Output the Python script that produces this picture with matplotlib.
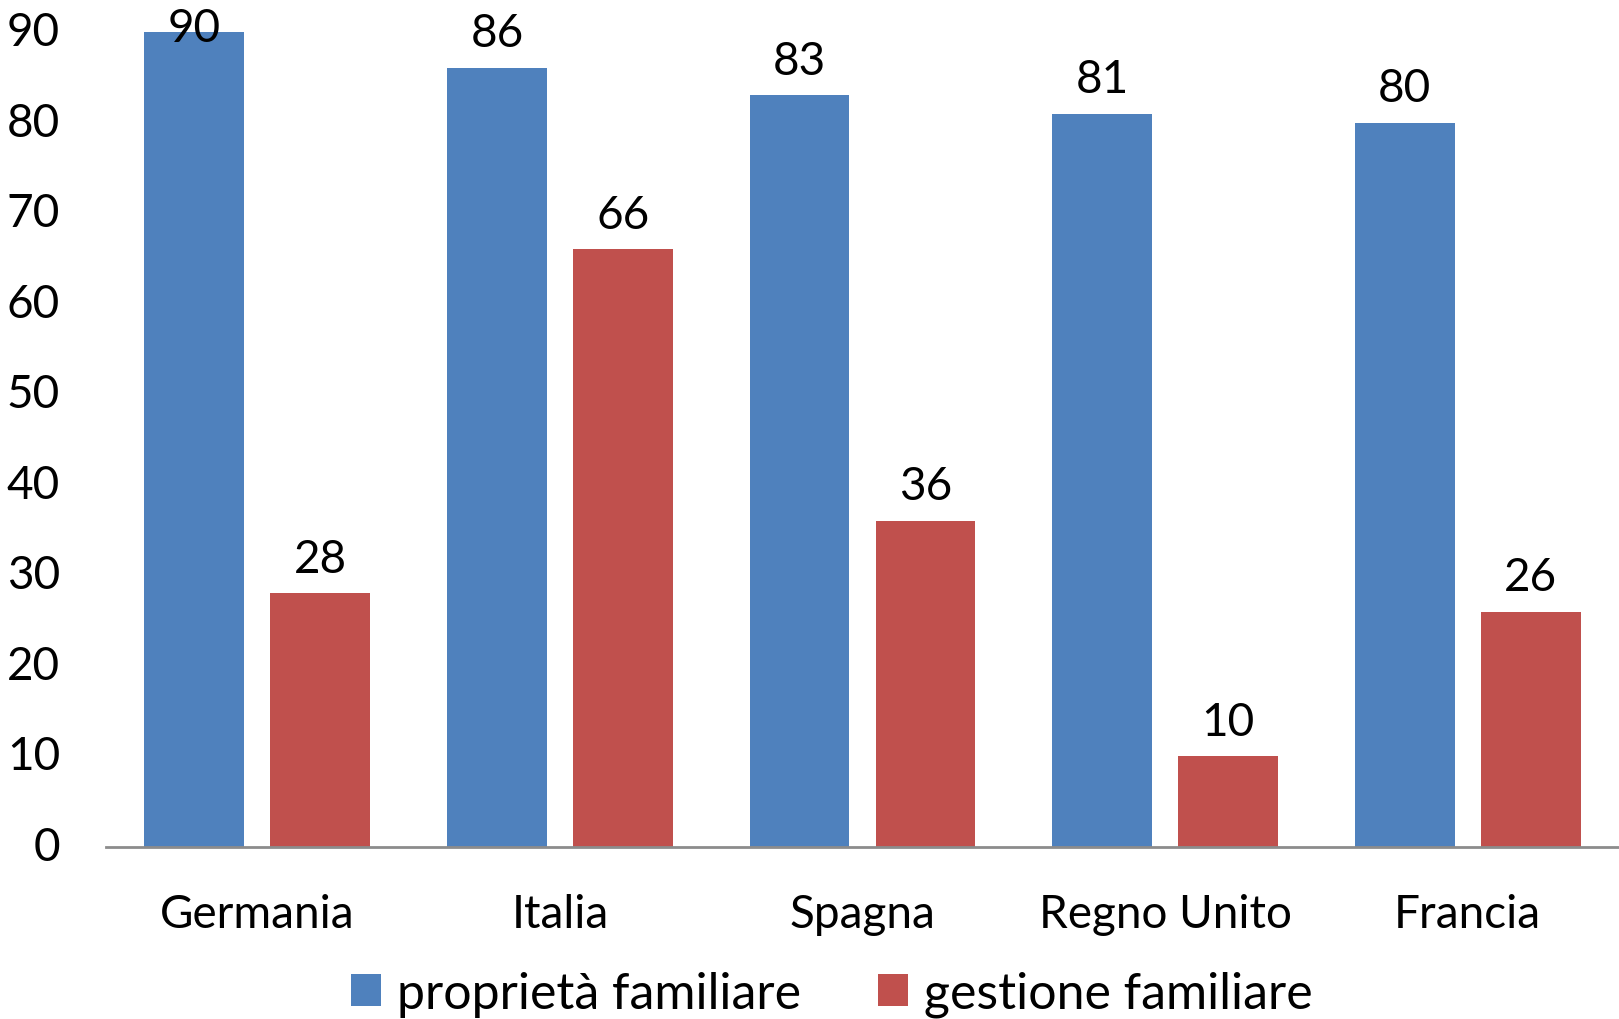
import matplotlib.pyplot as plt
import numpy as np

paesi = ["Germania", "Italia", "Spagna", "Regno Unito", "Francia"]
proprieta = [90, 86, 83, 81, 80]
gestione = [28, 66, 36, 10, 26]
serie = ["proprietà familiare", "gestione familiare"]

blu = "#4F81BD"
rosso = "#C0504D"

plt.rcParams['font.family'] = ['Lato', 'DejaVu Sans']
fs = 33
fs_leg = 36

fig = plt.figure(figsize=(16.19, 10.20), dpi=100)
ax = fig.add_axes([106 / 1619, 172 / 1020, 1 - 106 / 1619, (848 - 33) / 1020])

x = np.arange(len(paesi))
w = 0.33
off = 0.208
b1 = ax.bar(x - off, proprieta, w, color=blu, label=serie[0])
b2 = ax.bar(x + off, gestione, w, color=rosso, label=serie[1])

ax.set_xlim(-0.5, len(paesi) - 0.5)
ax.set_ylim(0, 90)
ax.set_yticks(range(0, 91, 10))
ax.set_xticks(x)
ax.set_xticklabels(paesi)
ax.tick_params(axis='y', length=0, labelsize=fs, pad=33)
ax.tick_params(axis='x', length=0, labelsize=fs, pad=33)
for lab in ax.get_yticklabels():
    lab.set_verticalalignment('center')

for s in ['top', 'right', 'left']:
    ax.spines[s].set_visible(False)
ax.spines['bottom'].set_color('#8C8C8C')
ax.spines['bottom'].set_linewidth(2)

# etichette sopra le barre (quella piu alta resta dentro il grafico)
for xs, vals in [(x - off, proprieta), (x + off, gestione)]:
    for xi, v in zip(xs, vals):
        yl = min(v + 2.4, 89.0)
        ax.text(xi, yl, str(v), ha='center', va='baseline', fontsize=fs, clip_on=False)

fig.legend(handles=[b1, b2], labels=serie, loc='center', bbox_to_anchor=(832 / 1619, 1 - 995 / 1020),
           ncol=2, frameon=False, fontsize=fs_leg, handlelength=0.6, handleheight=0.6,
           handletextpad=0.32, columnspacing=1.55)

fig.savefig("out.png", dpi=100)
